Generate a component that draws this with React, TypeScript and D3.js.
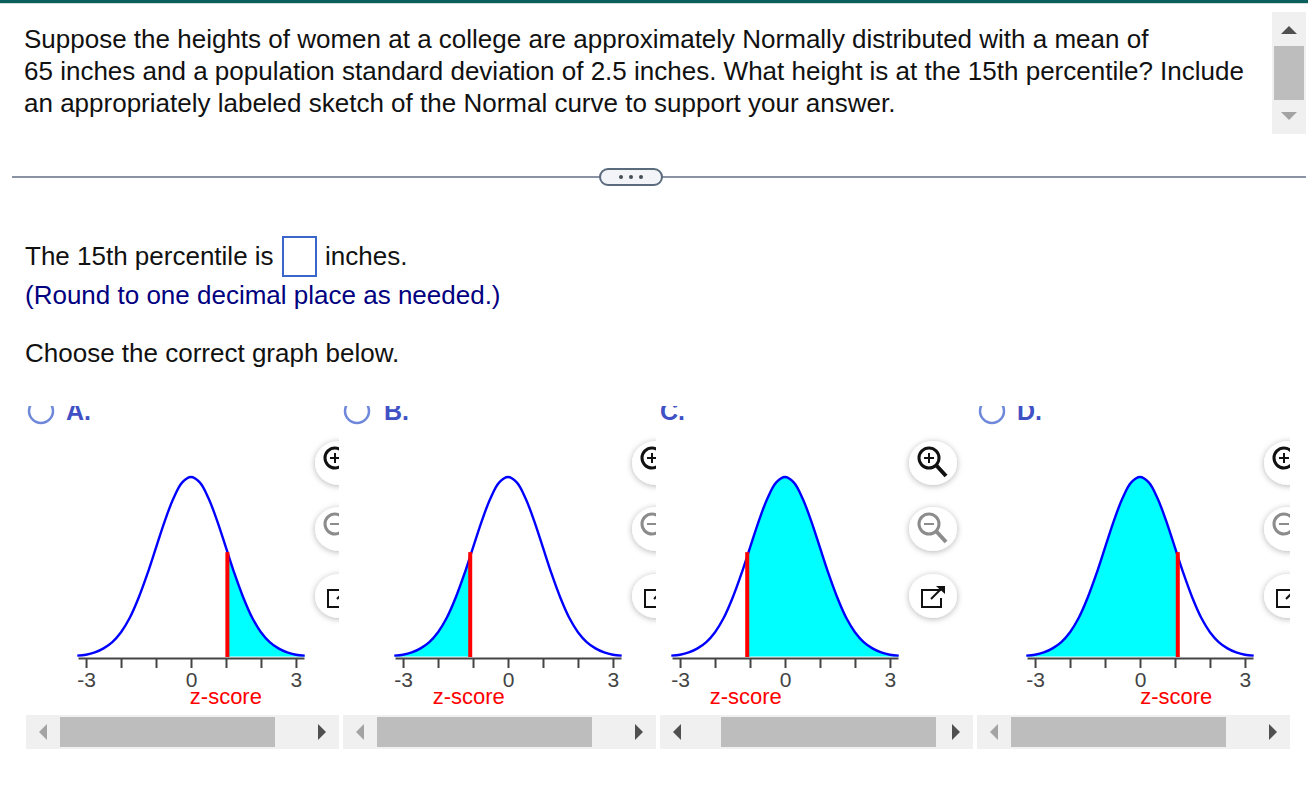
import React, { useEffect, useRef } from 'react';
import * as d3 from 'd3';

const questionLines = [
  'Suppose the heights of women at a college are approximately Normally distributed with a mean of',
  '65 inches and a population standard deviation of 2.5 inches. What height is at the 15th percentile? Include',
  'an appropriately labeled sketch of the Normal curve to support your answer.',
];

// curve, z against height
const zValues = [-3.25, -3, -2.75, -2.5, -2.25, -2, -1.75, -1.5, -1.25, -1, -0.75, -0.5, -0.25, 0, 0.25, 0.5, 0.75, 1, 1.25, 1.5, 1.75, 2, 2.25, 2.5, 2.75, 3, 3.25];
const heights = [0.002, 0.004, 0.009, 0.018, 0.032, 0.054, 0.086, 0.13, 0.183, 0.242, 0.301, 0.352, 0.387, 0.399, 0.387, 0.352, 0.301, 0.242, 0.183, 0.13, 0.086, 0.054, 0.032, 0.018, 0.009, 0.004, 0.002];
const tickValues = [-3, -2, -1, 0, 1, 2, 3];
const labelledTicks = [-3, 0, 3];
const cutHeight = 0.232;

const optionNames = ['A.', 'B.', 'C.', 'D.'];
const optionCuts = [1.04, -1.08, -1.08, 1.08];
const optionShadeFrom = [1.04, -3.25, -1.08, -3.25];
const optionShadeTo = [3.25, -1.08, 3.25, 1.08];
const optionZero = [191, 508, 785, 1140];
const optionLeft = [20, 343, 660, 977];
const optionRight = [339, 656, 973, 1290];
const thumbLeft = [60, 377, 721, 1011];
const leftArrowOn = [false, false, true, false];
const radioX = [41, 357, null, 992];
const nameX = [66, 384, 660, 1017];

const FONT = '"Liberation Sans", Arial, sans-serif';

const Panel: React.FC<{ index: number }> = ({ index }) => {
  const axisRef = useRef<SVGGElement>(null);
  const zero = optionZero[index];
  const left = optionLeft[index];
  const right = optionRight[index];
  const cut = optionCuts[index];
  const trackLeft = left === 20 ? 26 : left;
  const radio = radioX[index];

  const x = d3.scaleLinear().domain([-3.23, 3.23]).range([zero - 113, zero + 113]);
  const y = d3.scaleLinear().domain([0, 0.399]).range([656.5, 477]);

  const points = zValues.map((z, i) => [z, heights[i]] as [number, number]);
  const line = d3.line<[number, number]>().x(d => x(d[0])).y(d => y(d[1])).curve(d3.curveCatmullRom);
  const area = d3.area<[number, number]>().x(d => x(d[0])).y0(y(0)).y1(d => y(d[1])).curve(d3.curveCatmullRom);

  useEffect(() => {
    if (!axisRef.current) return;
    const g = d3.select(axisRef.current);
    g.selectAll('*').remove();
    g.call(
      d3.axisBottom(x)
        .tickValues(tickValues)
        .tickSize(10)
        .tickSizeOuter(0)
        .tickPadding(4)
        .tickFormat(d => (labelledTicks.includes(+d) ? String(d) : ''))
    );
    g.selectAll('path, line').attr('stroke', '#444').attr('stroke-width', 2);
    g.selectAll('text')
      .attr('fill', '#444')
      .attr('font-size', 21)
      .attr('font-family', FONT);
  }, []);

  const buttonX = zero + 148;
  const clipId = `panel-${index}`;
  const shadeId = `shade-${index}`;

  return (
    <g>
      <defs>
        <clipPath id={clipId}>
          <rect x={left} y={406} width={right - left} height={345} />
        </clipPath>
        <clipPath id={shadeId}>
          <rect x={x(optionShadeFrom[index])} y={470} width={x(optionShadeTo[index]) - x(optionShadeFrom[index])} height={190} />
        </clipPath>
      </defs>
      <g clipPath={`url(#${clipId})`}>
        {radio !== null && (
          <circle cx={radio} cy={411} r={12} fill="none" stroke="#6f88da" strokeWidth={2.5} />
        )}
        <text x={nameX[index]} y={420} fontFamily={FONT} fontWeight="bold" fontSize={25} fill="#3f51c4">
          {optionNames[index]}
        </text>

        <path d={area(points) ?? ''} fill="#00ffff" clipPath={`url(#${shadeId})`} />
        <path d={line(points) ?? ''} fill="none" stroke="#0000ff" strokeWidth={2.4} />
        <g ref={axisRef} transform="translate(0,658)" />
        <line x1={x(cut)} x2={x(cut)} y1={y(cutHeight)} y2={657} stroke="#ff0000" strokeWidth={4} />
        <text x={x(cut) - 1.5} y={704} textAnchor="middle" fontFamily={FONT} fontSize={22} fill="#ff0000">
          z-score
        </text>

        {/* zoom buttons */}
        <g filter="url(#btnShadow)" fill="#fff">
          <ellipse cx={buttonX} cy={463} rx={24} ry={22} />
          <ellipse cx={buttonX} cy={529} rx={24} ry={22} />
          <ellipse cx={buttonX} cy={596} rx={24} ry={22} />
        </g>
        <g fill="none" stroke="#111" strokeWidth={3}>
          <circle cx={buttonX - 4} cy={458} r={10} />
          <line x1={buttonX + 3} y1={465} x2={buttonX + 13} y2={476} strokeWidth={4} />
          <path d={`M${buttonX - 9},458 h10 M${buttonX - 4},453 v10`} strokeWidth={2} />
        </g>
        <g fill="none" stroke="#8c8c8c" strokeWidth={3}>
          <circle cx={buttonX - 4} cy={524} r={10} />
          <line x1={buttonX + 3} y1={531} x2={buttonX + 13} y2={542} strokeWidth={4} />
          <path d={`M${buttonX - 9},524 h10`} strokeWidth={2} />
        </g>
        <g fill="none" stroke="#111" strokeWidth={2}>
          <path d={`M${buttonX + 8},590 h-19 v17 h19 v-9`} />
          <line x1={buttonX - 2} y1={599} x2={buttonX + 9} y2={588} />
          <path d={`M${buttonX + 3},586 h9 v8 z`} fill="#111" stroke="none" />
        </g>

        {/* scrollbar */}
        <rect x={trackLeft} y={715} width={right - trackLeft} height={34} fill="#f0f0f0" />
        <rect x={thumbLeft[index]} y={717} width={215} height={30} fill="#bdbdbd" />
        <path d={`M${trackLeft + 13},732 l8,-8 v16 z`} fill={leftArrowOn[index] ? '#505050' : '#a3a3a3'} />
        <path d={`M${right - 21},724 l8,8 l-8,8 z`} fill="#505050" />
      </g>
    </g>
  );
};

const App: React.FC = () => (
  <svg
    width={1308}
    height={788}
    style={{ position: 'absolute', left: 0, top: 0, background: '#fff' }}
    fontFamily={FONT}
  >
    <defs>
      <filter id="btnShadow" x="-30%" y="-30%" width="160%" height="160%">
        <feDropShadow dx={0} dy={1} stdDeviation={3} floodColor="#000" floodOpacity={0.3} />
      </filter>
    </defs>

    <rect x={0} y={0} width={1308} height={3} fill="#0b5f5c" />
    <rect x={0} y={3} width={1308} height={1} fill="#d5dbdb" />

    {questionLines.map((t, i) => (
      <text key={i} x={24} y={48 + i * 32} fontSize={26} fill="#111">
        {t}
      </text>
    ))}

    {/* vertical scrollbar */}
    <rect x={1272} y={12} width={34} height={122} fill="#f0f0f0" />
    <rect x={1274} y={46} width={30} height={54} fill="#bdbdbd" />
    <path d="M1281,34 l8,-8 l8,8 z" fill="#505050" />
    <path d="M1281,112 l8,8 l8,-8 z" fill="#a3a3a3" />

    {/* divider */}
    <rect x={12} y={176} width={1294} height={2} fill="#8a93a3" />
    <rect x={600} y={169} width={62} height={16} rx={8} fill="#f2f4f7" stroke="#5a6b7d" strokeWidth={2} />
    {[621, 631, 641].map(cx => (
      <circle key={cx} cx={cx} cy={177} r={2} fill="#444c56" />
    ))}

    <text x={25} y={265} fontSize={26} fill="#111">The 15th percentile is</text>
    <rect x={283} y={237} width={33} height={39} fill="#fff" stroke="#3a66cc" strokeWidth={2} />
    <text x={325} y={265} fontSize={26} fill="#111">inches.</text>
    <text x={25} y={304} fontSize={26} fill="#000080">(Round to one decimal place as needed.)</text>
    <text x={25} y={362} fontSize={26} fill="#111">Choose the correct graph below.</text>

    {optionNames.map((_, i) => (
      <Panel key={i} index={i} />
    ))}
  </svg>
);

export default App;
